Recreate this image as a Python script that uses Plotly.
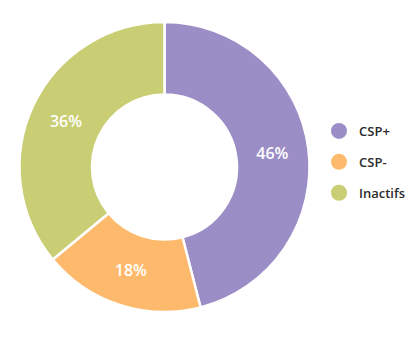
import plotly.graph_objects as go

categories = ["CSP+", "CSP-", "Inactifs"]
values = [46, 18, 36]
colors = ["#9b8dc5", "#feba6c", "#c9cd74"]

W, H = 419, 338

fig = go.Figure()

fig.add_trace(go.Pie(
    labels=categories,
    values=values,
    hole=0.5,
    sort=False,
    direction="clockwise",
    rotation=0,
    marker=dict(colors=colors, line=dict(color="white", width=2.5)),
    texttemplate="%{percent:.0%}",
    textposition="inside",
    insidetextorientation="horizontal",
    textfont=dict(family="Open Sans", size=16, color="white", weight=600),
    domain=dict(x=[19.5 / W, 309.5 / W], y=[(H - 312) / H, (H - 22) / H]),
    showlegend=False,
    hoverinfo="label+percent",
))

# legend entries drawn as round markers
for i, (name, col) in enumerate(zip(categories, colors)):
    fig.add_trace(go.Scatter(
        x=[None], y=[None], mode="markers", name=name,
        legendgroup=f"g{i}",
        marker=dict(symbol="circle", size=16, color=col),
        showlegend=True,
    ))

fig.update_layout(
    width=W, height=H,
    margin=dict(l=0, r=0, t=0, b=0),
    paper_bgcolor="white", plot_bgcolor="white",
    xaxis=dict(visible=False), yaxis=dict(visible=False),
    legend=dict(
        x=319 / W, y=(H - 162) / H, xanchor="left", yanchor="middle",
        font=dict(family="Open Sans", size=13, color="#2b2b2b", weight=600),
        tracegroupgap=11, itemsizing="trace",
        bgcolor="rgba(0,0,0,0)",
    ),
)

fig.write_html("out.html")
